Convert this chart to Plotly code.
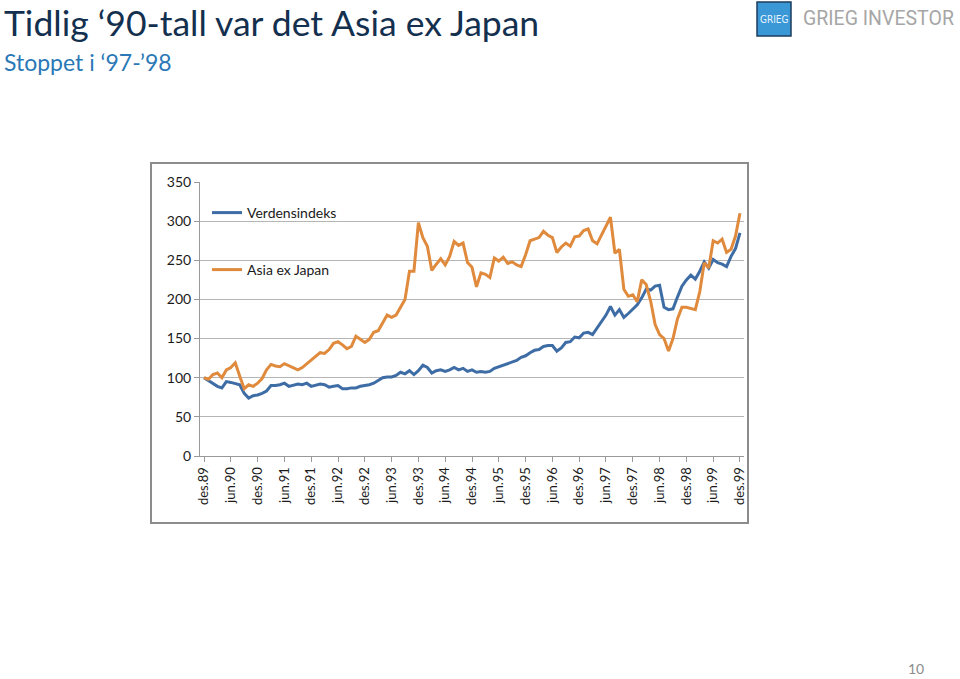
import plotly.graph_objects as go

# monthly index levels, des.89 = 100
verdensindeks = [
    100, 96, 92, 89, 87, 95, 94, 92, 91, 80, 74, 77, 78, 80, 83, 90, 90, 91, 93, 89,
    91, 92, 91, 93, 89, 91, 92, 91, 88, 89, 90, 86, 86, 87, 87, 89, 90, 91, 93, 97,
    100, 101, 101, 103, 107, 105, 109, 104, 109, 116, 113, 106, 109, 110, 108, 110, 113, 110, 112, 108,
    110, 107, 108, 107, 108, 112, 114, 117, 119, 121, 122, 126, 128, 132, 135, 136, 140, 141, 141, 134,
    138, 145, 146, 152, 151, 157, 158, 155, 163, 172, 180, 191, 180, 187, 177, 182, 187, 193, 202, 213,
    212, 217, 218, 190, 187, 188, 203, 217, 225, 231, 226, 236, 248, 240, 251, 247, 245, 242, 255, 265,
    285,
]
asia_ex_japan = [
    100, 98, 104, 106, 100, 110, 113, 119, 102, 86, 91, 89, 93, 99, 110, 117, 115, 114, 118, 115,
    112, 110, 113, 118, 123, 128, 132, 131, 136, 144, 146, 142, 137, 140, 153, 149, 145, 149, 158, 160,
    170, 180, 177, 180, 190, 200, 236, 236, 298, 279, 268, 237, 245, 252, 244, 255, 274, 269, 272, 247,
    241, 216, 234, 232, 228, 253, 249, 254, 246, 248, 244, 242, 257, 275, 277, 279, 287, 282, 279, 260,
    267, 272, 268, 280, 281, 288, 290, 275, 271, 283, 294, 305, 259, 264, 213, 204, 206, 197, 225, 219,
    198, 168, 155, 150, 134, 150, 175, 190, 190, 188, 187, 210, 247, 240, 275, 272, 277, 260, 264, 281,
    310,
]
tick_labels = [
    "des.89", "jun.90", "des.90", "jun.91", "des.91", "jun.92", "des.92", "jun.93", "des.93", "jun.94",
    "des.94", "jun.95", "des.95", "jun.96", "des.96", "jun.97", "des.97", "jun.98", "des.98", "jun.99",
    "des.99",
]
months = list(range(len(verdensindeks)))

W, H = 960, 679
FONT = "Lato, 'Open Sans', sans-serif"


def px(x):
    return x / W


def py(y):
    return 1 - y / H


fig = go.Figure()

fig.add_trace(go.Scatter(
    x=months,
    y=verdensindeks,
    mode="lines",
    name="Verdensindeks",
    line=dict(width=3, color="#3e6da6"),
    legend="legend",
    showlegend=True
))

fig.add_trace(go.Scatter(
    x=months,
    y=asia_ex_japan,
    mode="lines",
    name="Asia ex Japan",
    line=dict(width=3, color="#df8a3c"),
    legend="legend2",
    showlegend=True
))

# chart frame
fig.add_shape(
    type="rect", xref="paper", yref="paper",
    x0=px(151), x1=px(748), y0=py(523), y1=py(163),
    line=dict(color="#8c8c8c", width=2), fillcolor="rgba(0,0,0,0)"
)

# logo
fig.add_shape(
    type="rect", xref="paper", yref="paper",
    x0=px(757), x1=px(791), y0=py(36), y1=py(2),
    line=dict(color="#1d3d5c", width=1.5), fillcolor="#3a98d6"
)

annotations = [
    dict(x=px(2), y=py(23), text="Tidlig ‘90-tall var det Asia ex Japan",
         font=dict(size=35.5, color="#14304f", family=FONT), xanchor="left", yanchor="middle"),
    dict(x=px(2), y=py(62), text="Stoppet i ‘97-’98",
         font=dict(size=23, color="#2a78b6", family=FONT), xanchor="left", yanchor="middle"),
    dict(x=px(774), y=py(19), text="GRIEG",
         font=dict(size=10, color="#e8f4ff", family="'DejaVu Sans Condensed', sans-serif"),
         xanchor="center", yanchor="middle"),
    dict(x=px(801), y=py(18), text="GRIEG INVESTOR",
         font=dict(size=19.5, color="#a6a6a6", family="Roboto, sans-serif"), xanchor="left", yanchor="middle"),
    dict(x=px(926), y=py(668), text="10",
         font=dict(size=14, color="#8c8c8c", family=FONT), xanchor="right", yanchor="middle"),
]
for a in annotations:
    a.update(xref="paper", yref="paper", showarrow=False)

fig.update_layout(
    width=W,
    height=H,
    margin=dict(l=0, r=0, t=0, b=0, autoexpand=False),
    plot_bgcolor="white",
    paper_bgcolor="white",
    font=dict(family=FONT, color="#1a1a1a", size=14),
    annotations=annotations,
    showlegend=True,
    legend=dict(x=px(207), y=py(213), xanchor="left", yanchor="middle",
                bgcolor="rgba(0,0,0,0)", font=dict(size=14)),
    legend2=dict(x=px(207), y=py(270), xanchor="left", yanchor="middle",
                 bgcolor="rgba(0,0,0,0)", font=dict(size=14)),
)

fig.update_xaxes(
    domain=[px(200), px(744)],
    range=[-0.9, 120.9],
    tickvals=months[::6],
    ticktext=tick_labels,
    tickangle=-90,
    tickfont=dict(size=13),
    showgrid=False,
    zeroline=False,
    showline=True,
    linecolor="#9a9a9a",
    ticks="outside",
    ticklen=5,
    tickcolor="#9a9a9a",
    automargin=False,
)
fig.update_yaxes(
    domain=[py(456), py(182)],
    range=[0, 350],
    dtick=50,
    gridcolor="#b5b5b5",
    zeroline=False,
    showline=True,
    linecolor="#9a9a9a",
    ticks="outside",
    ticklen=5,
    tickcolor="#9a9a9a",
    tickfont=dict(size=14),
    automargin=False,
)

fig.write_html(
    "out.html",
    config={"displayModeBar": False},
    post_script="document.body.style.margin='0';document.body.style.overflow='hidden';"
)
